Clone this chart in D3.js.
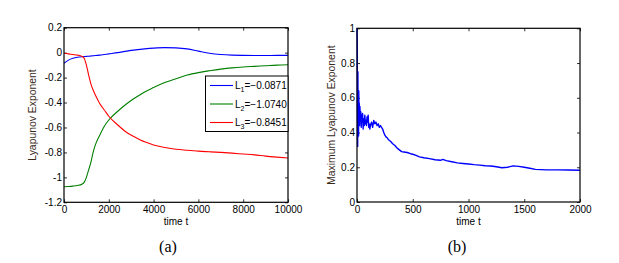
<!DOCTYPE html>
<html><head><meta charset="utf-8">
<script src="https://cdn.jsdelivr.net/npm/d3@7"></script>
<style>body{margin:0;background:#fff;} svg{display:block;} text{font-family:"Liberation Sans",Arial,sans-serif;}</style>
</head><body>
<svg id="c" width="619" height="263"></svg>
<script>
// ---- Data: panel (a) ----
const leftT = [0,200,400,600,800,900,1000,1100,1200,1300,1400,1600,1800,2000,2400,2800,3200,3600,4000,4500,5000,5500,6000,6500,7000,7500,8000,8500,9000,9500,10000];
const L1 = [-0.085,-0.06,-0.045,-0.037,-0.033,-0.032,-0.03,-0.029,-0.027,-0.025,-0.023,-0.02,-0.015,-0.01,0.0,0.012,0.022,0.03,0.036,0.04,0.038,0.03,0.012,-0.005,-0.015,-0.02,-0.022,-0.023,-0.023,-0.022,-0.022];
const L2 = [-1.075,-1.073,-1.07,-1.065,-1.055,-1.04,-1.0,-0.94,-0.88,-0.8,-0.74,-0.66,-0.59,-0.54,-0.47,-0.41,-0.36,-0.315,-0.28,-0.24,-0.21,-0.18,-0.16,-0.145,-0.132,-0.122,-0.115,-0.11,-0.105,-0.1,-0.097];
const L3 = [-0.005,-0.01,-0.015,-0.02,-0.03,-0.045,-0.1,-0.18,-0.25,-0.3,-0.34,-0.41,-0.46,-0.51,-0.58,-0.64,-0.68,-0.715,-0.74,-0.76,-0.775,-0.783,-0.79,-0.795,-0.8,-0.806,-0.813,-0.82,-0.83,-0.838,-0.845];
const seriesNames = ["1","2","3"];
const seriesValues = ["=\u22120.0871","=\u22121.0740","=\u22120.8451"];
const seriesColors = ["#0000ff","#008000","#ff0000"];
const leftXTicks = [0,2000,4000,6000,8000,10000];
const leftYTicks = [0.2,0,-0.2,-0.4,-0.6,-0.8,-1,-1.2];

// ---- Data: panel (b) ----
const rightT = [0,2,4,6,8,10,12,14,16,18,20,23,26,30,34,38,42,46,50,55,60,65,70,75,80,85,90,95,100,105,110,115,120,130,140,150,160,170,180,190,200,210,220,230,240,250,260,270,280,300,320,340,360,380,400,420,450,480,500,530,560,600,650,700,750,770,800,850,900,950,1000,1050,1100,1150,1200,1250,1300,1350,1400,1450,1500,1550,1600,1700,1800,1900,2000];
const rightV = [1.0,0.93,0.55,0.32,0.75,0.45,0.6,0.38,0.64,0.5,0.57,0.44,0.55,0.48,0.52,0.43,0.5,0.46,0.51,0.42,0.48,0.44,0.5,0.45,0.47,0.44,0.49,0.46,0.5,0.43,0.45,0.42,0.44,0.46,0.43,0.47,0.45,0.46,0.44,0.45,0.43,0.44,0.43,0.42,0.4,0.385,0.375,0.37,0.36,0.35,0.335,0.325,0.31,0.3,0.29,0.288,0.285,0.278,0.275,0.268,0.26,0.255,0.25,0.243,0.24,0.245,0.238,0.232,0.225,0.222,0.219,0.215,0.212,0.209,0.207,0.203,0.197,0.2,0.208,0.205,0.2,0.194,0.188,0.185,0.185,0.184,0.183];
const rightXTicks = [0,500,1000,1500,2000];
const rightYTicks = [0,0.2,0.4,0.6,0.8,1];

const svg = d3.select("#c");
const labelColor = "#3a2a1a";

function panel(o){
  const g = svg.append("g");
  const x = d3.scaleLinear().domain(o.xd).range([o.x0,o.x1]);
  const y = d3.scaleLinear().domain(o.yd).range([o.y1,o.y0]);
  const fmt = d => String(d).replace("\u2212","-");
  const ax = [
    [d3.axisBottom(x).tickValues(o.xt).tickSizeInner(-3).tickSizeOuter(0).tickPadding(4).tickFormat(fmt), `translate(0,${o.y1})`],
    [d3.axisTop(x).tickValues(o.xt).tickSizeInner(-3).tickSizeOuter(0).tickFormat(""), `translate(0,${o.y0})`],
    [d3.axisLeft(y).tickValues(o.yt).tickSizeInner(-3).tickSizeOuter(0).tickPadding(2).tickFormat(fmt), `translate(${o.x0},0)`],
    [d3.axisRight(y).tickValues(o.yt).tickSizeInner(-3).tickSizeOuter(0).tickFormat(""), `translate(${o.x1},0)`]
  ];
  ax.forEach(([a,t]) => {
    const gg = g.append("g").attr("transform", t).call(a);
    gg.select(".domain").remove();
    gg.selectAll("line").attr("stroke","#000").attr("stroke-width",0.8);
    gg.selectAll("text").attr("font-size",10).attr("fill","#000").style("font-family","'Liberation Sans',Arial,sans-serif");
  });
  o.series.forEach(s => {
    const line = d3.line().x((d,i)=>x(o.t[i])).y(d=>y(d)).curve(s.curve);
    g.append("path").datum(s.v).attr("d",line).attr("fill","none")
      .attr("stroke",s.color).attr("stroke-width",s.w).attr("stroke-linejoin","round");
  });
  g.append("rect").attr("x",o.x0).attr("y",o.y0).attr("width",o.x1-o.x0).attr("height",o.y1-o.y0)
    .attr("fill","none").attr("stroke","#000").attr("stroke-width",1.2);
  g.append("text").attr("x",(o.x0+o.x1)/2).attr("y",225).attr("text-anchor","middle")
    .attr("font-size",10).text("time t");
  g.append("text").attr("transform",`translate(${o.ylx},${(o.y0+o.y1)/2}) rotate(-90)`)
    .attr("text-anchor","middle").attr("font-size",10.4).attr("fill",labelColor).text(o.ylabel);
  g.append("text").attr("x",o.capx).attr("y",252).attr("text-anchor","middle")
    .attr("font-size",16).style("font-family","'Liberation Serif','Times New Roman',serif").text(o.cap);
  return {g,x,y};
}

const A = panel({x0:64,x1:288,y0:27.7,y1:202.3,xd:[0,10000],yd:[-1.2,0.2],xt:leftXTicks,yt:leftYTicks,
  t:leftT, series:[L1,L2,L3].map((v,i)=>({v,color:seriesColors[i],w:1.1,curve:d3.curveMonotoneX})),
  ylabel:"Lyapunov Exponent", ylx:36, cap:"(a)", capx:168});

const lg = A.g.append("g");
lg.append("rect").attr("x",205.5).attr("y",76).attr("width",82.5).attr("height",55.5)
  .attr("fill","#fff").attr("stroke","#000").attr("stroke-width",1);
seriesNames.forEach((n,i)=>{
  const yy = 85.5 + i*18.5;
  lg.append("line").attr("x1",210).attr("x2",233).attr("y1",yy).attr("y2",yy)
    .attr("stroke",seriesColors[i]).attr("stroke-width",1.1);
  const t = lg.append("text").attr("x",235).attr("y",yy+3.5).attr("font-size",10);
  t.append("tspan").text("L");
  t.append("tspan").attr("font-size",7).attr("dy",3).text(n);
  t.append("tspan").attr("dy",-3).text(seriesValues[i]);
});

panel({x0:357,x1:580,y0:28.3,y1:202,xd:[0,2000],yd:[0,1],xt:rightXTicks,yt:rightYTicks,
  t:rightT, series:[{v:rightV,color:"#0000ff",w:1.4,curve:d3.curveLinear}],
  ylabel:"Maximum Lyapunov Exponent", ylx:335, cap:"(b)", capx:457});
</script>
</body></html>
